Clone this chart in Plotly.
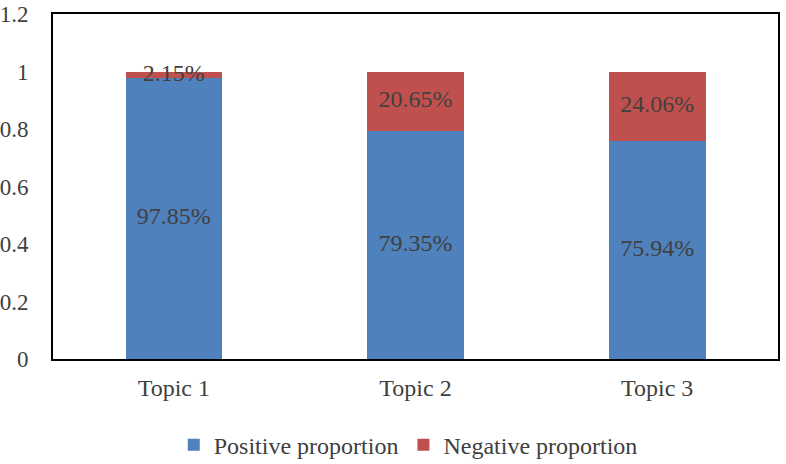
import plotly.graph_objects as go

categories = ["Topic 1", "Topic 2", "Topic 3"]
positive = [0.9785, 0.7935, 0.7594]
negative = [0.0215, 0.2065, 0.2406]
pos_labels = ["97.85%", "79.35%", "75.94%"]
neg_labels = ["2.15%", "20.65%", "24.06%"]

FONT = "Liberation Serif, Times New Roman, serif"
TXT = "#404040"

fig = go.Figure()
fig.add_trace(go.Bar(x=categories, y=positive, name="Positive proportion",
                     marker=dict(color="#4F81BD", line=dict(width=0)), width=0.4))
fig.add_trace(go.Bar(x=categories, y=negative, name="Negative proportion",
                     marker=dict(color="#C0504D", line=dict(width=0)), width=0.4))

# labels centred in each segment
fig.add_trace(go.Scatter(x=categories, y=[p / 2 for p in positive], mode="text",
                         text=pos_labels, showlegend=False, hoverinfo="skip",
                         textfont=dict(family=FONT, size=24, color=TXT)))
fig.add_trace(go.Scatter(x=categories, y=[p + n / 2 for p, n in zip(positive, negative)],
                         mode="text", text=neg_labels, showlegend=False, hoverinfo="skip",
                         textfont=dict(family=FONT, size=24, color=TXT)))

fig.update_layout(
    barmode="stack",
    width=786, height=464,
    margin=dict(l=53, r=8, t=14, b=105, autoexpand=False),
    paper_bgcolor="white", plot_bgcolor="white",
    font=dict(family=FONT, size=22, color=TXT),
    bargap=0.6,
    legend=dict(orientation="h", x=0.49, xanchor="center", y=-0.25, yanchor="middle",
                font=dict(family=FONT, size=24, color=TXT), itemwidth=30,
                traceorder="normal"),
    xaxis=dict(showline=True, linecolor="black", linewidth=2, mirror=True,
               showgrid=False, ticks="", ticklabelstandoff=6, automargin=False,
               tickfont=dict(family=FONT, size=24, color=TXT)),
    yaxis=dict(range=[0, 1.2], dtick=0.2, showline=True, linecolor="black", linewidth=2,
               mirror=True, showgrid=False, zeroline=False, ticks="",
               ticklabelstandoff=18, automargin=False,
               tickfont=dict(family=FONT, size=23, color=TXT)),
)

fig.write_html("out.html")
